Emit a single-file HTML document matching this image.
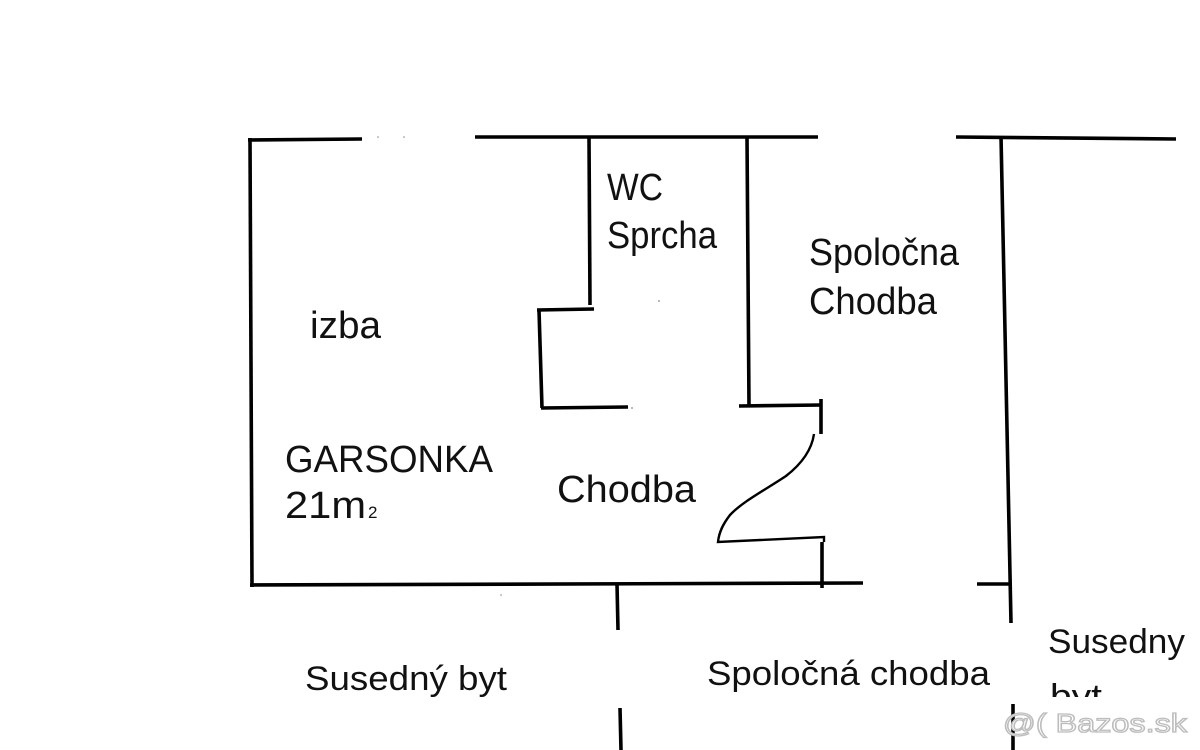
<!DOCTYPE html>
<html>
<head>
<meta charset="utf-8">
<style>
  html,body{margin:0;padding:0;background:#fff;}
  svg{display:block;}
  text{font-family:"Liberation Sans", Arial, sans-serif;fill:#111;}
</style>
</head>
<body>
<svg width="1200" height="750" viewBox="0 0 1200 750" xmlns="http://www.w3.org/2000/svg">
  <rect width="1200" height="750" fill="#fff"/>
  <defs>
    <clipPath id="bytclip"><rect x="1040" y="660" width="160" height="37"/></clipPath>
  </defs>
  <g stroke="#000" stroke-width="3.6" fill="none" stroke-linecap="butt">
    <!-- top walls -->
    <line x1="248" y1="140" x2="362" y2="139"/>
    <line x1="475" y1="137" x2="818" y2="137"/>
    <line x1="956" y1="137" x2="1176" y2="139"/>
    <!-- outer left wall -->
    <line x1="250" y1="138" x2="252" y2="587"/>
    <!-- bottom wall -->
    <line x1="250" y1="585" x2="863" y2="583"/>
    <!-- WC left wall -->
    <line x1="589" y1="137" x2="590" y2="305"/>
    <line x1="537" y1="310" x2="594" y2="309"/>
    <line x1="539" y1="310" x2="542" y2="408"/>
    <line x1="541" y1="408" x2="628" y2="407"/>
    <!-- WC right wall -->
    <line x1="747" y1="137" x2="749" y2="406"/>
    <line x1="739" y1="406" x2="822" y2="405"/>
    <line x1="821" y1="399" x2="821" y2="434"/>
    <!-- lower door jamb -->
    <line x1="822" y1="542" x2="822" y2="588"/>
    <!-- right vertical wall -->
    <line x1="1001" y1="136" x2="1011" y2="623"/>
    <line x1="977" y1="584" x2="1011" y2="584"/>
    <!-- below bottom wall -->
    <line x1="617" y1="584" x2="618" y2="630"/>
    <line x1="620" y1="708" x2="621" y2="750"/>
    <line x1="1013" y1="704" x2="1013" y2="750"/>
  </g>
  <!-- door swing -->
  <path d="M814,434 C812,448 804,462 786,476 C765,490 742,502 730,515 C723,524 719,532 718,542 L824,537 L824,542" stroke="#000" stroke-width="2.4" fill="none"/>
  <!-- tiny dots -->
  <g fill="#888">
    <circle cx="378" cy="137" r="0.8"/>
    <circle cx="404" cy="137" r="0.8"/>
    <circle cx="659" cy="301" r="0.9"/>
    <circle cx="632" cy="408" r="0.9"/>
    <circle cx="501" cy="595" r="0.8"/>
  </g>

  <!-- labels -->
  <text x="607" y="200" font-size="38" textLength="56" lengthAdjust="spacingAndGlyphs">WC</text>
  <text x="607" y="248" font-size="38" textLength="110" lengthAdjust="spacingAndGlyphs">Sprcha</text>
  <text x="809" y="265" font-size="38" textLength="150" lengthAdjust="spacingAndGlyphs">Spoločna</text>
  <text x="809" y="314" font-size="38" textLength="128" lengthAdjust="spacingAndGlyphs">Chodba</text>
  <text x="310" y="338" font-size="38" textLength="71" lengthAdjust="spacingAndGlyphs">izba</text>
  <text x="285" y="472" font-size="38" textLength="208" lengthAdjust="spacingAndGlyphs">GARSONKA</text>
  <text x="285" y="518" font-size="38" textLength="81" lengthAdjust="spacingAndGlyphs">21m</text>
  <text x="368" y="518" font-size="17">2</text>
  <text x="557" y="502" font-size="38" textLength="139" lengthAdjust="spacingAndGlyphs">Chodba</text>
  <text x="305" y="690" font-size="34" textLength="202" lengthAdjust="spacingAndGlyphs">Susedný byt</text>
  <text x="707" y="685" font-size="34" textLength="283" lengthAdjust="spacingAndGlyphs">Spoločná chodba</text>
  <text x="1048" y="653" font-size="34" textLength="137" lengthAdjust="spacingAndGlyphs">Susedny</text>
  <text x="1050" y="708" font-size="34" clip-path="url(#bytclip)" textLength="52" lengthAdjust="spacingAndGlyphs">byt</text>

  <!-- watermark -->
  <text x="1003" y="732" font-size="26" textLength="184" lengthAdjust="spacingAndGlyphs" style="fill:#fff;stroke:#bdbdbd;stroke-width:1.3;">@( Bazos.sk</text>
</svg>
</body>
</html>
